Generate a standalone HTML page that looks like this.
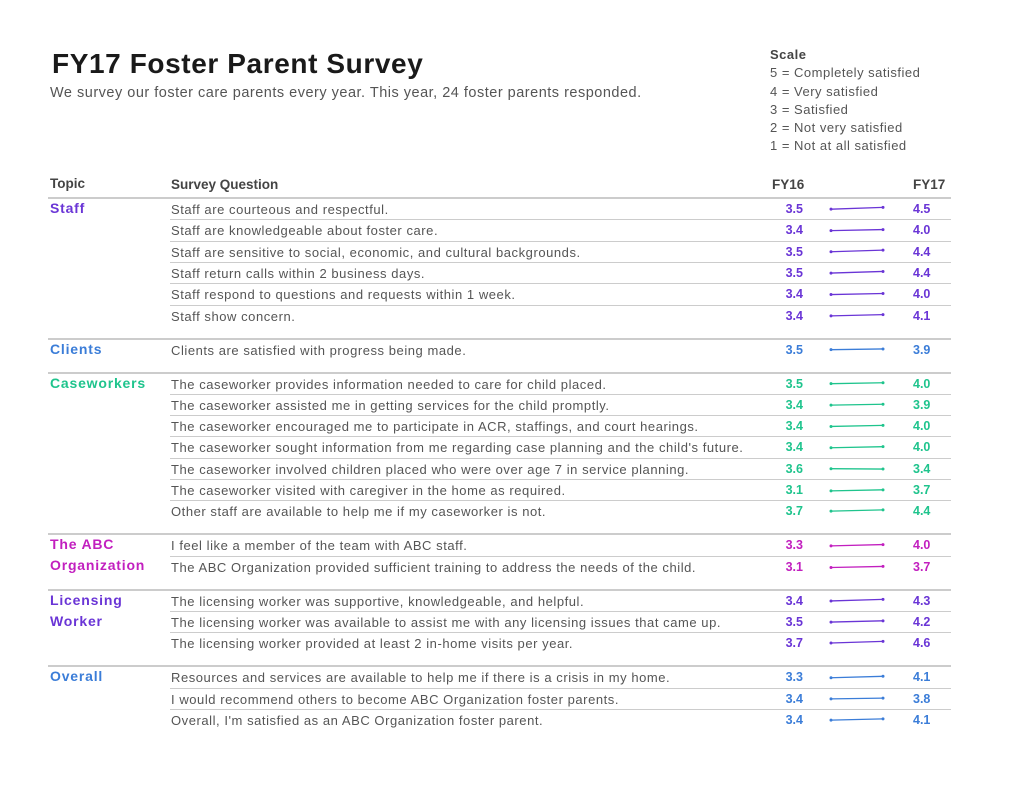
<!DOCTYPE html>
<html><head><meta charset="utf-8"><style>
body{margin:0;background:#fff;font-family:"Liberation Sans",sans-serif;}
#page{position:relative;width:1024px;height:790px;overflow:hidden;}
.t{position:absolute;white-space:nowrap;}
.q{font-size:13px;color:#555;letter-spacing:0.55px;}
.topic{font-size:14px;font-weight:bold;line-height:21px;letter-spacing:0.8px;}
.num{font-size:12.5px;font-weight:bold;}
.hd{font-size:13.5px;font-weight:bold;color:#444;}
.ln{position:absolute;height:1px;background:#ccc;}
.gl{position:absolute;height:2px;background:#ccc;}
</style></head><body>
<div id="page">
<div class="t" style="left:52px;top:48px;font-size:28px;font-weight:bold;color:#1a1a1a;letter-spacing:0.6px;">FY17 Foster Parent Survey</div>
<div class="t" style="left:50px;top:85px;font-size:14.5px;color:#555;letter-spacing:0.5px;">We survey our foster care parents every year. This year, 24 foster parents responded.</div>
<div class="t" style="left:770px;top:46px;font-size:13px;color:#555;line-height:18.3px;letter-spacing:0.5px;"><b style="color:#444">Scale</b><br>5 = Completely satisfied<br>4 = Very satisfied<br>3 = Satisfied<br>2 = Not very satisfied<br>1 = Not at all satisfied</div>
<div class="t hd" style="left:50px;top:176px;">Topic</div>
<div class="t hd" style="left:171px;top:177px;">Survey Question</div>
<div class="t hd" style="left:772px;top:177px;">FY16</div>
<div class="t hd" style="left:913px;top:177px;">FY17</div>
<svg id="sv" width="1024" height="790" style="position:absolute;left:0;top:0;"></svg>
</div>
<script>
const groups=["Staff","Clients","Caseworkers","The ABC<br>Organization","Licensing<br>Worker","Overall"];
const groupColors=["#6a35d6","#3b7dd8","#1fc48d","#c21fbf","#6a35d6","#3b7dd8"];
const groupSizes=[6,1,7,2,3,3];
const questions=[
"Staff are courteous and respectful.","Staff are knowledgeable about foster care.","Staff are sensitive to social, economic, and cultural backgrounds.","Staff return calls within 2 business days.","Staff respond to questions and requests within 1 week.","Staff show concern.",
"Clients are satisfied with progress being made.",
"The caseworker provides information needed to care for child placed.","The caseworker assisted me in getting services for the child promptly.","The caseworker encouraged me to participate in ACR, staffings, and court hearings.","The caseworker sought information from me regarding case planning and the child's future.","The caseworker involved children placed who were over age 7 in service planning.","The caseworker visited with caregiver in the home as required.","Other staff are available to help me if my caseworker is not.",
"I feel like a member of the team with ABC staff.","The ABC Organization provided sufficient training to address the needs of the child.",
"The licensing worker was supportive, knowledgeable, and helpful.","The licensing worker was available to assist me with any licensing issues that came up.","The licensing worker provided at least 2 in-home visits per year.",
"Resources and services are available to help me if there is a crisis in my home.","I would recommend others to become ABC Organization foster parents.","Overall, I'm satisfied as an ABC Organization foster parent."];
const fy16=[3.5,3.4,3.5,3.5,3.4,3.4,3.5,3.5,3.4,3.4,3.4,3.6,3.1,3.7,3.3,3.1,3.4,3.5,3.7,3.3,3.4,3.4];
const fy17=[4.5,4.0,4.4,4.4,4.0,4.1,3.9,4.0,3.9,4.0,4.0,3.4,3.7,4.4,4.0,3.7,4.3,4.2,4.6,4.1,3.8,4.1];
const page=document.getElementById('page'),sv=document.getElementById('sv');
const yv=(v,c)=>c-(v-3.6)*1.8;
const x0=831,x1=883;
let idx=0,y=209;
groups.forEach((g,gi)=>{
  const col=groupColors[gi];
  const gl=document.createElement('div');gl.className='gl';
  
  
  gl.style.cssText=`left:48px;width:903px;top:${y-12}px`;page.appendChild(gl);
  const tp=document.createElement('div');tp.className='t topic';
  
  
  tp.style.cssText=`left:50px;top:${y-11}px;color:${col}`;tp.innerHTML=g;page.appendChild(tp);
  for(let k=0;k<groupSizes[gi];k++){
    const i=idx++;
    if(k>0){const l=document.createElement('div');l.className='ln';
      
      
      l.style.cssText=`left:170px;width:781px;top:${y-11}px`;page.appendChild(l);}
    const q=document.createElement('div');q.className='t q';
    
    
    q.style.top=(y-7)+'px';q.style.left='171px';q.textContent=questions[i];page.appendChild(q);
    const a=document.createElement('div');a.className='t num';
    
    
    a.style.cssText=`right:${1024-803}px;top:${y-7}px;color:${col}`;a.textContent=fy16[i].toFixed(1);page.appendChild(a);
    const b=document.createElement('div');b.className='t num';
    
    
    b.style.cssText=`left:913px;top:${y-7}px;color:${col}`;b.textContent=fy17[i].toFixed(1);page.appendChild(b);
    const ln=document.createElementNS('http://www.w3.org/2000/svg','line');
    
    
    ln.setAttribute('x1',x0);ln.setAttribute('y1',yv(fy16[i],y));ln.setAttribute('x2',x1);ln.setAttribute('y2',yv(fy17[i],y));
    ln.setAttribute('stroke',col);ln.setAttribute('stroke-width','1.3');sv.appendChild(ln);
    [[x0,fy16[i]],[x1,fy17[i]]].forEach(p=>{const c=document.createElementNS('http://www.w3.org/2000/svg','circle');
      
      
      c.setAttribute('cx',p[0]);c.setAttribute('cy',yv(p[1],y));c.setAttribute('r','1.5');c.setAttribute('fill',col);sv.appendChild(c);});
    if(k<groupSizes[gi]-1)y+=21.3;
  }
  y+=34;
});
</script>
</body></html>
